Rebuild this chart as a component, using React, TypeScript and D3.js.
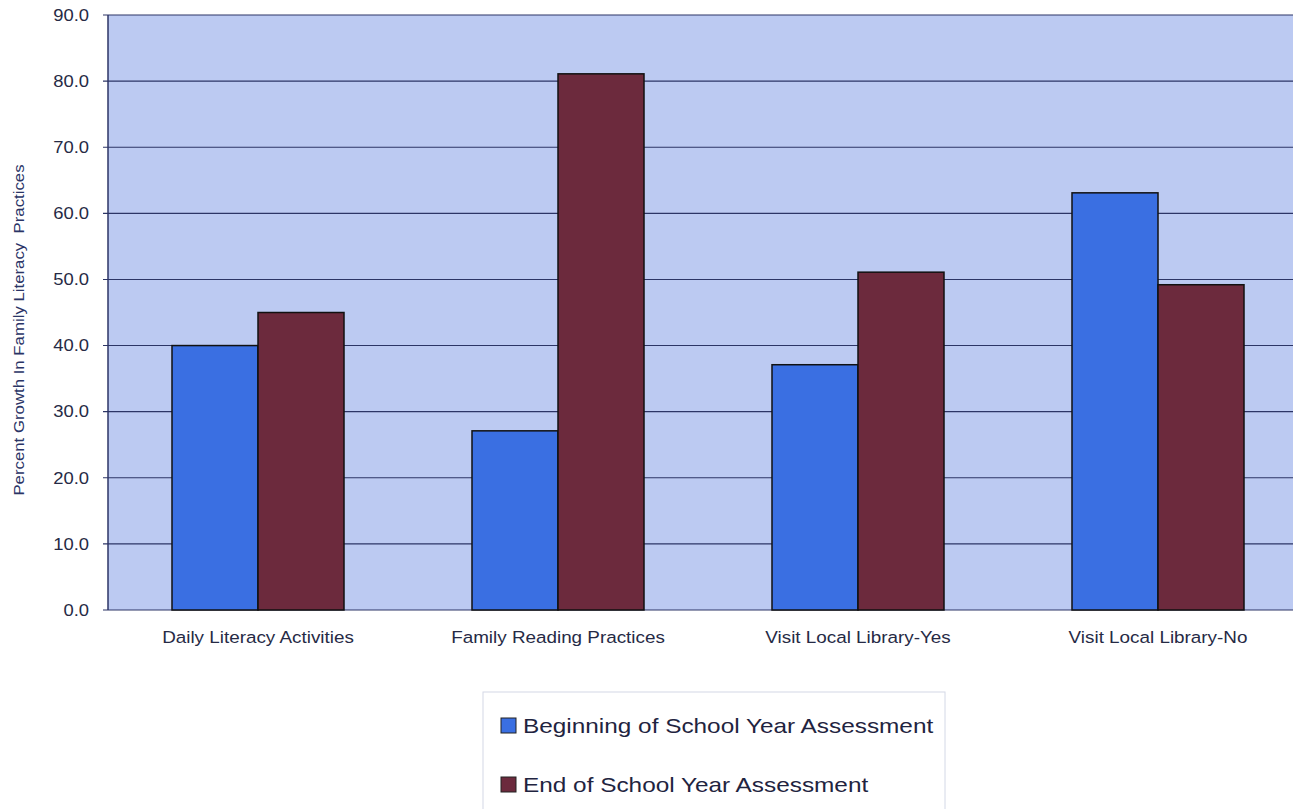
import React, { useRef, useEffect } from "react";
import * as d3 from "d3";

const categories = [
  "Daily Literacy Activities",
  "Family Reading Practices",
  "Visit Local Library-Yes",
  "Visit Local Library-No",
];
const seriesNames = [
  "Beginning of School Year Assessment",
  "End of School Year Assessment",
];
const beginning = [40.0, 27.1, 37.1, 63.1];
const end = [45.0, 81.1, 51.1, 49.2];
const yTicks = [0, 10, 20, 30, 40, 50, 60, 70, 80, 90];

const seriesColors = ["#3a6fe2", "#6c2a3d"];
const FONT = "Liberation Sans, Arial, sans-serif";

const App: React.FC = () => {
  const svgRef = useRef<SVGSVGElement | null>(null);

  useEffect(() => {
    const width = 1293;
    const left = 108;
    const top = 15;
    const bottom = 610;
    const right = 1308;

    const svg = d3.select(svgRef.current);
    svg.selectAll("*").remove();

    const x = d3.scaleBand<string>().domain(categories).range([left, right]);
    const y = d3.scaleLinear().domain([0, 90]).range([bottom, top]);
    const groupW = 172;
    const barW = groupW / 2;

    // plot background
    svg
      .append("rect")
      .attr("x", left)
      .attr("y", top)
      .attr("width", right - left)
      .attr("height", bottom - top)
      .attr("fill", "#bccaf2");

    // gridlines
    svg
      .append("g")
      .selectAll("line")
      .data(yTicks)
      .join("line")
      .attr("x1", left - 5)
      .attr("x2", width)
      .attr("y1", (d) => y(d))
      .attr("y2", (d) => y(d))
      .attr("stroke", "#2c3566")
      .attr("stroke-width", 1.1);

    // y axis line
    svg
      .append("line")
      .attr("x1", left)
      .attr("x2", left)
      .attr("y1", top)
      .attr("y2", bottom)
      .attr("stroke", "#2c3566")
      .attr("stroke-width", 1.5);

    // tick labels (source text is slightly stretched horizontally)
    svg
      .append("g")
      .selectAll("text")
      .data(yTicks)
      .join("text")
      .attr("transform", (d) => `translate(89,${y(d)}) scale(1.15,1)`)
      .attr("dy", "0.36em")
      .attr("text-anchor", "end")
      .attr("font-family", FONT)
      .attr("font-size", 16)
      .attr("fill", "#262a45")
      .text((d) => d.toFixed(1));

    // bars
    const series = [beginning, end];
    series.forEach((vals, si) => {
      svg
        .append("g")
        .selectAll("rect")
        .data(categories)
        .join("rect")
        .attr("x", (c) => x(c)! + x.bandwidth() / 2 - groupW / 2 + si * barW)
        .attr("y", (c, i) => y(vals[i]))
        .attr("width", barW)
        .attr("height", (c, i) => bottom - y(vals[i]))
        .attr("fill", seriesColors[si])
        .attr("stroke", "#111")
        .attr("stroke-width", 1.5);
    });

    // category labels
    svg
      .append("g")
      .selectAll("text")
      .data(categories)
      .join("text")
      .attr("transform", (c) => `translate(${x(c)! + x.bandwidth() / 2},643) scale(1.11,1)`)
      .attr("text-anchor", "middle")
      .attr("font-family", FONT)
      .attr("font-size", 17)
      .attr("fill", "#262a45")
      .text((c) => c);

    // y title
    svg
      .append("text")
      .attr("transform", "translate(24,330) rotate(-90) scale(1.2,1)")
      .attr("text-anchor", "middle")
      .attr("font-family", FONT)
      .attr("font-size", 14)
      .attr("fill", "#2a3466")
      .attr("xml:space", "preserve")
      .text("Percent Growth In Family Literacy  Practices");

    // legend
    const legend = svg.append("g");
    legend
      .append("rect")
      .attr("x", 483)
      .attr("y", 692)
      .attr("width", 462)
      .attr("height", 130)
      .attr("fill", "#fff")
      .attr("stroke", "#d3d8e6")
      .attr("stroke-width", 1);
    seriesNames.forEach((name, i) => {
      const by = 733 + i * 59;
      legend
        .append("rect")
        .attr("x", 501)
        .attr("y", by - 15)
        .attr("width", 15)
        .attr("height", 15)
        .attr("fill", seriesColors[i])
        .attr("stroke", "#222")
        .attr("stroke-width", 1);
      legend
        .append("text")
        .attr("transform", `translate(523,${by}) scale(1.16,1)`)
        .attr("font-family", FONT)
        .attr("font-size", 21)
        .attr("fill", "#1f2440")
        .text(name);
    });
  }, []);

  return (
    <div style={{ position: "fixed", left: 0, top: 0 }}>
      <svg ref={svgRef} width={1293} height={809} style={{ display: "block", background: "#fff" }} />
    </div>
  );
};

export default App;
